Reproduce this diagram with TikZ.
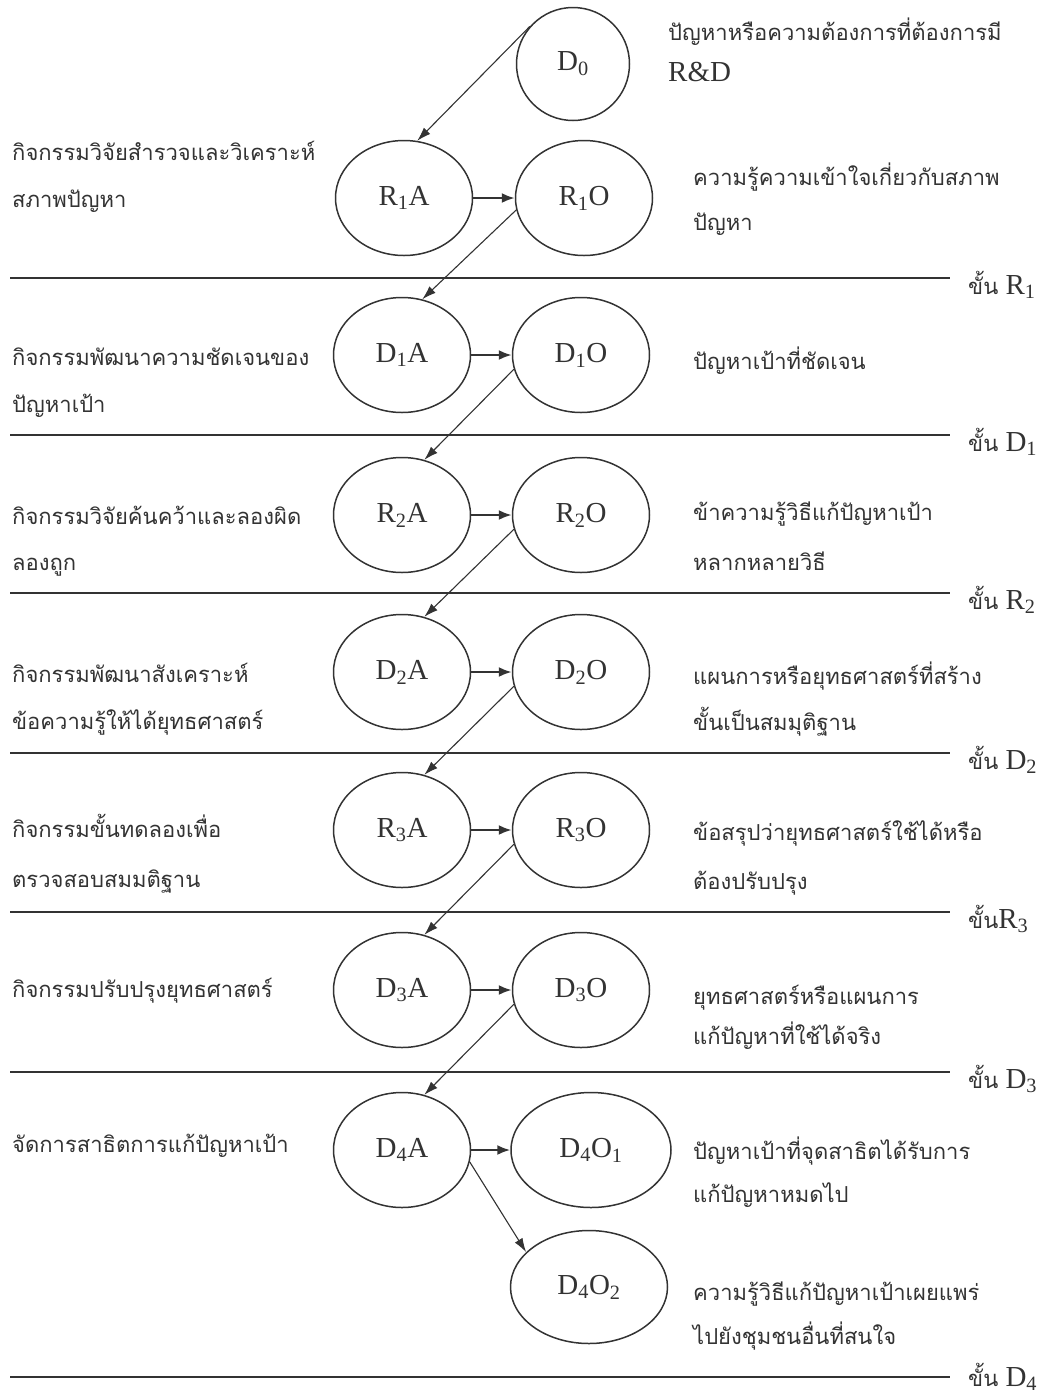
\documentclass[tikz,border=0pt]{standalone}
\usepackage{fontspec}
\setmainfont{Liberation Serif}
\newfontfamily\thaifont[Script=Thai]{Loma}
\usetikzlibrary{shapes.geometric,arrows.meta}
\definecolor{ink}{gray}{0.2}
\newcommand{\thaisz}{\thaifont\fontsize{22}{25}\selectfont}
\newcommand{\latsz}{\fontsize{29}{31}\selectfont}
\begin{document}
\begin{tikzpicture}[x=1pt,y=-1pt,
  every node/.style={text=ink},
  stagenode/.style={ellipse, draw=ink, line width=1.5pt, inner sep=0pt,
    minimum width=137pt, minimum height=115pt, font=\latsz},
  note/.style={anchor=base west, inner sep=0pt, font=\thaisz},
  lvl/.style={anchor=base west, inner sep=0pt, font=\latsz},
  hline/.style={draw=ink, line width=1.8pt},
  flow/.style={draw=ink, line width=2.2pt, -{Latex[length=13pt,width=10pt]}},
  link/.style={draw=ink, line width=1.1pt, -{Latex[length=14pt,width=9pt]}},
]
\useasboundingbox (0,0) rectangle (1039,1393);

% ellipses
\node[stagenode, minimum width=113pt, minimum height=113pt] (D0) at (573,64) {D\textsubscript{0}};
\node[stagenode] (R1A) at (404,198) {R\textsubscript{1}A};
\node[stagenode] (R1O) at (584,198) {R\textsubscript{1}O};
\node[stagenode] (D1A) at (402,355) {D\textsubscript{1}A};
\node[stagenode] (D1O) at (581,355) {D\textsubscript{1}O};
\node[stagenode] (R2A) at (402,515) {R\textsubscript{2}A};
\node[stagenode] (R2O) at (581,515) {R\textsubscript{2}O};
\node[stagenode] (D2A) at (402,672) {D\textsubscript{2}A};
\node[stagenode] (D2O) at (581,672) {D\textsubscript{2}O};
\node[stagenode] (R3A) at (402,830) {R\textsubscript{3}A};
\node[stagenode] (R3O) at (581,830) {R\textsubscript{3}O};
\node[stagenode] (D3A) at (402,990) {D\textsubscript{3}A};
\node[stagenode] (D3O) at (581,990) {D\textsubscript{3}O};
\node[stagenode] (D4A) at (402,1150) {D\textsubscript{4}A};
\node[stagenode, minimum width=160pt] (D4O1) at (591,1150) {D\textsubscript{4}O\textsubscript{1}};
\node[stagenode, minimum width=157pt, minimum height=113pt] (D4O2) at (589,1287) {D\textsubscript{4}O\textsubscript{2}};

% stage separators
\foreach \y/\dy/\lab in {278/16/{{\thaisz ขั้น} R\textsubscript{1}},
                     435/16/{{\thaisz ขั้น} D\textsubscript{1}},
                     593/16/{{\thaisz ขั้น} R\textsubscript{2}},
                     753/16/{{\thaisz ขั้น} D\textsubscript{2}},
                     912/16/{{\thaisz ขั้น}R\textsubscript{3}},
                     1072/16/{{\thaisz ขั้น} D\textsubscript{3}},
                     1377/9/{{\thaisz ขั้น} D\textsubscript{4}}}{
  \draw[hline] (10,\y) -- (950,\y);
  \node[lvl] at (968,\y+\dy) {\lab};
}

% connectors
\draw[link] (D0.139) -- (R1A.77);
\draw[flow] (R1A.east) -- (R1O.west);
\draw[link] (R1O.190) -- (D1A.70);
\draw[flow] (D1A.east) -- (D1O.west);
\draw[link] (D1O.192) -- (R2A.68);
\draw[flow] (R2A.east) -- (R2O.west);
\draw[link] (R2O.192) -- (D2A.68);
\draw[flow] (D2A.east) -- (D2O.west);
\draw[link] (D2O.192) -- (R3A.68);
\draw[flow] (R3A.east) -- (R3O.west);
\draw[link] (R3O.192) -- (D3A.68);
\draw[flow] (D3A.east) -- (D3O.west);
\draw[link] (D3O.192) -- (D4A.68);
\draw[flow] (D4A.east) -- (D4O1.west);
\draw[link] (D4A.-10) -- (D4O2.151);

% activity descriptions (left)
\node[note] (tl1a) at (12,160) {กิจกรรมวิจัยสำรวจและวิเคราะห์};
\node[note] (tl1b) at (12,207) {สภาพปัญหา};
\node[note] (tl2a) at (12,365) {กิจกรรมพัฒนาความชัดเจนของ};
\node[note] (tl2b) at (12,412) {ปัญหาเป้า};
\node[note] (tl3a) at (12,524) {กิจกรรมวิจัยค้นคว้าและลองผิด};
\node[note] (tl3b) at (12,570) {ลองถูก};
\node[note] (tl4a) at (12,682) {กิจกรรมพัฒนาสังเคราะห์};
\node[note] (tl4b) at (12,729) {ข้อความรู้ให้ได้ยุทธศาสตร์};
\node[note] (tl5a) at (12,837) {กิจกรรมขั้นทดลองเพื่อ};
\node[note] (tl5b) at (12,887) {ตรวจสอบสมมติฐาน};
\node[note] (tl6a) at (12,997) {กิจกรรมปรับปรุงยุทธศาสตร์};
\node[note] (tl7a) at (12,1152) {จัดการสาธิตการแก้ปัญหาเป้า};

% outcome descriptions (right)
\node[note] (tr0a) at (668,40) {ปัญหาหรือความต้องการที่ต้องการมี};
\node[lvl] (tr0b) at (668,81) {R\&D};
\node[note] (tr1a) at (693,185) {ความรู้ความเข้าใจเกี่ยวกับสภาพ};
\node[note] (tr1b) at (693,230) {ปัญหา};
\node[note] (tr2a) at (693,369) {ปัญหาเป้าที่ชัดเจน};
\node[note] (tr3a) at (693,520) {ข้าความรู้วิธีแก้ปัญหาเป้า};
\node[note] (tr3b) at (693,570) {หลากหลายวิธี};
\node[note] (tr4a) at (693,684) {แผนการหรือยุทธศาสตร์ที่สร้าง};
\node[note] (tr4b) at (693,730) {ขั้นเป็นสมมุติฐาน};
\node[note] (tr5a) at (693,840) {ข้อสรุปว่ายุทธศาสตร์ใช้ได้หรือ};
\node[note] (tr5b) at (693,889) {ต้องปรับปรุง};
\node[note] (tr6a) at (693,1004) {ยุทธศาสตร์หรือแผนการ};
\node[note] (tr6b) at (693,1044) {แก้ปัญหาที่ใช้ได้จริง};
\node[note] (tr7a) at (693,1159) {ปัญหาเป้าที่จุดสาธิตได้รับการ};
\node[note] (tr7b) at (693,1202) {แก้ปัญหาหมดไป};
\node[note] (tr8a) at (693,1300) {ความรู้วิธีแก้ปัญหาเป้าเผยแพร่};
\node[note] (tr8b) at (693,1344) {ไปยังชุมชนอื่นที่สนใจ};
\end{tikzpicture}
\end{document}
